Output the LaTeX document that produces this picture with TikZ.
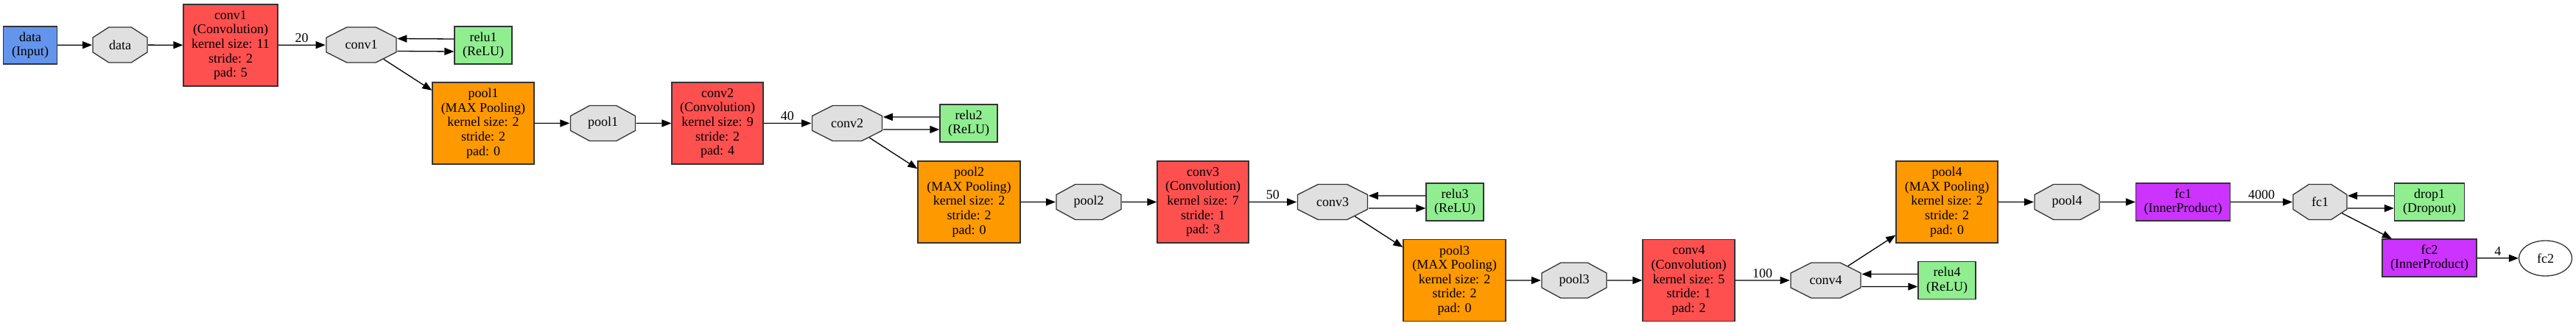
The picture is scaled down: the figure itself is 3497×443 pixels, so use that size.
\documentclass[tikz,border=0pt]{standalone}
\usepackage{fontspec}
\usepackage{graphicx}
\setmainfont{Liberation Serif}
\usetikzlibrary{shapes.geometric,arrows.meta}
\definecolor{inblue}{HTML}{6495ED}
\definecolor{convred}{HTML}{FF5050}
\definecolor{poolorange}{HTML}{FF9900}
\definecolor{ippurple}{HTML}{CC33FF}
\definecolor{ngreen}{HTML}{90EE90}
\definecolor{blobgray}{HTML}{E0E0E0}
\newcommand{\btxt}[2]{\scalebox{#1}[1]{#2}}
\begin{document}
\begin{tikzpicture}[x=1pt,y=-1pt,
  every node/.style={font=\fontsize{18}{19.6}\selectfont, align=center, inner sep=0pt},
  boxl/.style={draw=black!80, line width=1.3pt, rectangle, minimum height=51pt},
  bigbox/.style={minimum height=111pt},
  conv/.style={boxl,bigbox,fill=convred,minimum width=125pt},
  pool/.style={boxl,bigbox,fill=poolorange,minimum width=138pt},
  neuron/.style={boxl,fill=ngreen,minimum width=78pt},
  ip/.style={boxl,fill=ippurple,minimum width=128pt},
  blob/.style={draw=black!80,line width=1.3pt,fill=blobgray,regular polygon,
    regular polygon sides=8,minimum size=51.96pt,xscale=#1/48},
  conn/.style={line width=1.3pt,-{Triangle[length=13pt,width=10pt]}},
  lbl/.style={above=3pt}
]
\useasboundingbox (0,0) rectangle (3497,443);

% row 1
\node[boxl,fill=inblue,minimum width=73pt] (input) at (41,61.5) {data\\(Input)};
\node[blob=74] (bdata) at (163,61) {\btxt{0.6486}{data}};
\node[conv,minimum width=128pt] (conv1) at (313,61.5) {conv1\\(Convolution)\\kernel size: 11\\stride: 2\\pad: 5};
\node[blob=95] (bconv1) at (490.5,61) {\btxt{0.5053}{conv1}};
\node[neuron] (relu1) at (656,61.5) {relu1\\(ReLU)};

% row 2
\node[pool] (pool1) at (656,167.5) {pool1\\(MAX Pooling)\\kernel size: 2\\stride: 2\\pad: 0};
\node[blob=88] (bpool1) at (818.5,167.5) {\btxt{0.5455}{pool1}};
\node[conv,minimum width=124pt] (conv2) at (974,167.5) {conv2\\(Convolution)\\kernel size: 9\\stride: 2\\pad: 4};
\node[blob=95] (bconv2) at (1150,167.5) {\btxt{0.5053}{conv2}};
\node[neuron] (relu2) at (1315,167.5) {relu2\\(ReLU)};

% row 3
\node[pool,minimum width=139pt] (pool2) at (1315.5,274.5) {pool2\\(MAX Pooling)\\kernel size: 2\\stride: 2\\pad: 0};
\node[blob=88] (bpool2) at (1478,274.5) {\btxt{0.5455}{pool2}};
\node[conv,minimum width=124pt] (conv3) at (1633,274.5) {conv3\\(Convolution)\\kernel size: 7\\stride: 1\\pad: 3};
\node[blob=95] (bconv3) at (1809,274.5) {\btxt{0.5053}{conv3}};
\node[neuron] (relu3) at (1975,274.5) {relu3\\(ReLU)};

% row 4
\node[pool,minimum width=139pt] (pool3) at (1974.5,381) {pool3\\(MAX Pooling)\\kernel size: 2\\stride: 2\\pad: 0};
\node[blob=88] (bpool3) at (2137,381) {\btxt{0.5455}{pool3}};
\node[conv] (conv4) at (2292.5,381) {conv4\\(Convolution)\\kernel size: 5\\stride: 1\\pad: 2};
\node[blob=95] (bconv4) at (2478.5,381) {\btxt{0.5053}{conv4}};
\node[neuron] (relu4) at (2643,381) {relu4\\(ReLU)};

% back to row 3
\node[pool] (pool4) at (2643,274.5) {pool4\\(MAX Pooling)\\kernel size: 2\\stride: 2\\pad: 0};
\node[blob=88] (bpool4) at (2806,274.5) {\btxt{0.5455}{pool4}};
\node[ip] (fc1) at (2963.5,274.5) {fc1\\(InnerProduct)};
\node[blob=73] (bfc1) at (3149.5,274.5) {\btxt{0.6575}{fc1}};
\node[neuron,minimum width=95pt] (drop1) at (3298,274.5) {drop1\\(Dropout)};
\node[ip] (fc2) at (3298,350.5) {fc2\\(InnerProduct)};
\node[draw=black!80,line width=1.3pt,ellipse,minimum width=72pt,minimum height=48pt] (bfc2) at (3455.5,351) {fc2};

% edges
\draw[conn] (input) -- (bdata);
\draw[conn] (bdata) -- (conv1);
\draw[conn] (conv1) -- node[lbl]{20} (bconv1);
\draw[conn] ([yshift=8.5pt]relu1.west) -- ([yshift=8.5pt]bconv1.east);
\draw[conn] ([yshift=-8.5pt]bconv1.east) -- ([yshift=-8.5pt]relu1.west);
\draw[conn] (bconv1) -- (pool1);

\draw[conn] (pool1) -- (bpool1);
\draw[conn] (bpool1) -- (conv2);
\draw[conn] (conv2) -- node[lbl]{40} (bconv2);
\draw[conn] ([yshift=8.5pt]relu2.west) -- ([yshift=8.5pt]bconv2.east);
\draw[conn] ([yshift=-8.5pt]bconv2.east) -- ([yshift=-8.5pt]relu2.west);
\draw[conn] (bconv2) -- (pool2);

\draw[conn] (pool2) -- (bpool2);
\draw[conn] (bpool2) -- (conv3);
\draw[conn] (conv3) -- node[lbl]{50} (bconv3);
\draw[conn] ([yshift=8.5pt]relu3.west) -- ([yshift=8.5pt]bconv3.east);
\draw[conn] ([yshift=-8.5pt]bconv3.east) -- ([yshift=-8.5pt]relu3.west);
\draw[conn] (bconv3) -- (pool3);

\draw[conn] (pool3) -- (bpool3);
\draw[conn] (bpool3) -- (conv4);
\draw[conn] (conv4) -- node[lbl]{100} (bconv4);
\draw[conn] ([yshift=8.5pt]relu4.west) -- ([yshift=8.5pt]bconv4.east);
\draw[conn] ([yshift=-8.5pt]bconv4.east) -- ([yshift=-8.5pt]relu4.west);
\draw[conn] (bconv4) -- (pool4);

\draw[conn] (pool4) -- (bpool4);
\draw[conn] (bpool4) -- (fc1);
\draw[conn] (fc1) -- node[lbl]{4000} (bfc1);
\draw[conn] ([yshift=8.5pt]drop1.west) -- ([yshift=8.5pt]bfc1.east);
\draw[conn] ([yshift=-8.5pt]bfc1.east) -- ([yshift=-8.5pt]drop1.west);
\draw[conn] (bfc1) -- (fc2);
\draw[conn] (fc2) -- node[lbl]{4} (bfc2);
\end{tikzpicture}
\end{document}
